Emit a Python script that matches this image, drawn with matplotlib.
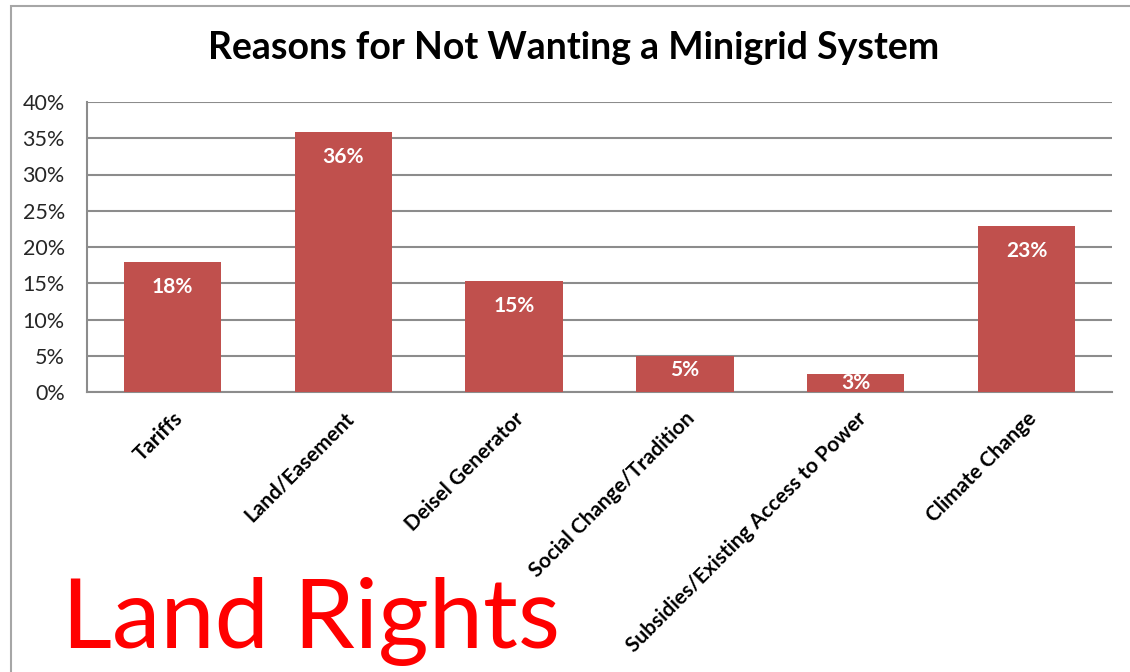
import matplotlib.pyplot as plt
from matplotlib.patches import Rectangle
from matplotlib.ticker import FuncFormatter

categories = ['Tariffs', 'Land/Easement', 'Deisel Generator', 'Social Change/Tradition',
              'Subsidies/Existing Access to Power', 'Climate Change']
shares = [17.9, 35.9, 15.3, 5.0, 2.5, 22.9]
value_labels = ['18%', '36%', '15%', '5%', '3%', '23%']
yticks = [0, 5, 10, 15, 20, 25, 30, 35, 40]

bar_color = '#C0504D'
grid_color = '#8C8C8C'
font = ['Lato', 'DejaVu Sans']

fig = plt.figure(figsize=(11.3, 6.72), dpi=100)
W, H = 1130, 672

# outer chart frame
fig.patches.append(Rectangle((11 / W, -0.01), 1.2, 1 - 6 / H + 0.01, transform=fig.transFigure,
                             fill=False, edgecolor='#A6A6A6', linewidth=1.5))

ax_h_px = 392 - 102
ax = fig.add_axes([87 / W, 1 - 392 / H, (1112 - 87) / W, ax_h_px / H])
x = range(len(categories))
bars = ax.bar(x, shares, width=0.57, color=bar_color, zorder=3)

# inside-end labels, pulled toward the middle on short bars
for rect, lab in zip(bars, value_labels):
    top = rect.get_height()
    h_px = top / 40 * ax_h_px
    off_px = min(25, max(h_px / 2 - 4, 9))
    ax.annotate(lab, (rect.get_x() + rect.get_width() / 2, top), xytext=(0, -off_px * 0.72),
                textcoords='offset points', ha='center', va='center', color='white',
                fontsize=15, fontweight='bold', family=font, zorder=4)

ax.set_xlim(-0.5, len(categories) - 0.5)
ax.set_ylim(0, 40)
ax.set_yticks(yticks)
ax.yaxis.set_major_formatter(FuncFormatter(lambda v, p: f'{v:.0f}%'))
ax.grid(axis='y', color=grid_color, linewidth=1.5, zorder=0)
for s in ['top', 'right']:
    ax.spines[s].set_visible(False)
ax.spines['left'].set_color(grid_color)
ax.spines['bottom'].set_color(grid_color)
ax.spines['left'].set_linewidth(1.5)
ax.spines['bottom'].set_linewidth(1.5)
ax.tick_params(axis='y', length=0, pad=16, labelsize=15.5, labelcolor='#262626')
ax.tick_params(axis='x', length=0, pad=12)
for t in ax.get_yticklabels():
    t.set_family(font)

ax.set_xticks(list(x))
ax.set_xticklabels(categories, rotation=45, ha='right', rotation_mode='anchor',
                   fontsize=15, fontweight='bold', family=font)

fig.text(574 / W, 1 - 48 / H, 'Reasons for Not Wanting a Minigrid System', ha='center', va='center',
         fontsize=27, fontweight='bold', family=font)

fig.text(62 / W, 1 - 648 / H, 'Land Rights', ha='left', va='baseline', color='#FF0000',
         fontsize=70, family=font)

fig.savefig('out.png', dpi=100)
